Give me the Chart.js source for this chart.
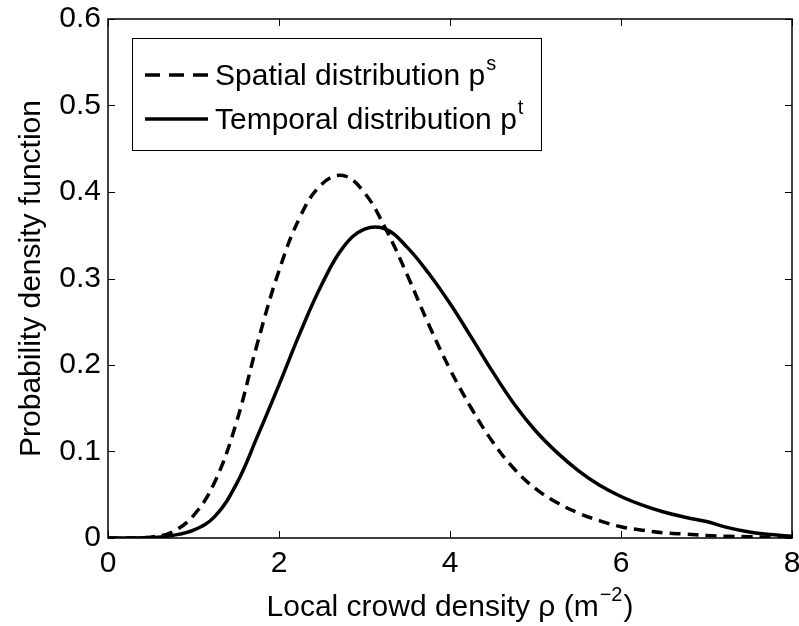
<!DOCTYPE html>
<html>
<head>
<meta charset="utf-8">
<script src="https://cdn.jsdelivr.net/npm/chart.js@4/dist/chart.umd.min.js"></script>
<style>
  html, body { margin: 0; padding: 0; background: #fff; }
  #wrap { width: 799px; height: 626px; }
</style>
</head>
<body>
<div id="wrap"><canvas id="pdf"></canvas></div>
<script>
"use strict";

// density grid (m^-2) and the two pdf curves
var densities = [0, 0.25, 0.5, 0.75, 1, 1.25, 1.5, 1.75, 2, 2.25, 2.5, 2.75, 3, 3.25, 3.5, 3.75,
  4, 4.25, 4.5, 4.75, 5, 5.25, 5.5, 5.75, 6, 6.25, 6.5, 6.75, 7, 7.25, 7.5, 7.75, 8];
var spatialPdf = [0, 0, 0.001, 0.007, 0.026, 0.065, 0.133, 0.226, 0.309, 0.372, 0.409, 0.419,
  0.399, 0.357, 0.304, 0.247, 0.195, 0.150, 0.111, 0.080, 0.057, 0.041, 0.029, 0.02,
  0.013, 0.009, 0.006, 0.0045, 0.003, 0.002, 0.0015, 0.001, 0.0005];
var temporalPdf = [0, 0, 0.0005, 0.003, 0.009, 0.025, 0.062, 0.118, 0.177, 0.238, 0.293, 0.336,
  0.357, 0.357, 0.336, 0.306, 0.271, 0.232, 0.192, 0.155, 0.124, 0.099, 0.078, 0.061,
  0.048, 0.038, 0.030, 0.024, 0.019, 0.012, 0.007, 0.004, 0.002];

var seriesNames = ["Spatial distribution p", "Temporal distribution p"];
var seriesSups = ["s", "t"];
var xTickValues = [0, 2, 4, 6, 8];
var yTickValues = [0, 0.1, 0.2, 0.3, 0.4, 0.5, 0.6];
var xTitle = ["Local crowd density \u03c1 (m", "\u22122", ")"];

var FONT = '"Liberation Sans", Arial, Helvetica, sans-serif';

function toPoints(ys) {
  return densities.map(function(x, i) { return { x: x, y: ys[i] }; });
}

// box + inward ticks (matlab style), x title with superscript, legend inside the axes
var framePlugin = {
  id: "frame",
  afterDraw: function(chart) {
    var ctx = chart.ctx;
    var a = chart.chartArea;
    var xs = chart.scales.x, ys = chart.scales.y;
    var tick = 7;
    ctx.save();
    ctx.strokeStyle = "#000";
    ctx.lineWidth = 1.5;
    ctx.strokeRect(a.left, a.top, a.right - a.left, a.bottom - a.top);

    ctx.lineWidth = 1;
    ctx.beginPath();
    xs.ticks.forEach(function(t) {
      var px = Math.round(xs.getPixelForValue(t.value)) + 0.5;
      ctx.moveTo(px, a.bottom); ctx.lineTo(px, a.bottom - tick);
      ctx.moveTo(px, a.top); ctx.lineTo(px, a.top + tick);
    });
    ys.ticks.forEach(function(t) {
      var py = Math.round(ys.getPixelForValue(t.value)) + 0.5;
      ctx.moveTo(a.left, py); ctx.lineTo(a.left + tick, py);
      ctx.moveTo(a.right, py); ctx.lineTo(a.right - tick, py);
    });
    ctx.stroke();

    // x axis title
    ctx.fillStyle = "#000";
    ctx.textBaseline = "alphabetic";
    ctx.textAlign = "left";
    ctx.font = "30px " + FONT;
    var w0 = ctx.measureText(xTitle[0]).width;
    var w2 = ctx.measureText(xTitle[2]).width;
    ctx.font = "20px " + FONT;
    var w1 = ctx.measureText(xTitle[1]).width;
    var tx = (a.left + a.right) / 2 - (w0 + w1 + w2 + 2) / 2;
    var tb = 616;
    ctx.font = "30px " + FONT;
    ctx.fillText(xTitle[0], tx, tb);
    ctx.font = "20px " + FONT;
    ctx.fillText(xTitle[1], tx + w0 + 1, tb - 15);
    ctx.font = "30px " + FONT;
    ctx.fillText(xTitle[2], tx + w0 + w1 + 2, tb);

    // legend
    var bx = a.left + 24, by = a.top + 19, bw = 409, bh = 112;
    ctx.fillStyle = "#fff";
    ctx.fillRect(bx, by, bw, bh);
    ctx.lineWidth = 1;
    ctx.strokeRect(bx + 0.5, by + 0.5, bw, bh);

    chart.data.datasets.forEach(function(ds, i) {
      var cy = by + 37 + i * 44;
      ctx.lineWidth = ds.borderWidth;
      ctx.setLineDash(i === 0 ? [15, 9] : []);
      ctx.beginPath();
      ctx.moveTo(bx + 13, cy);
      ctx.lineTo(bx + 76, cy);
      ctx.stroke();
      ctx.setLineDash([]);

      ctx.fillStyle = "#000";
      ctx.font = "30px " + FONT;
      var lx = bx + 83;
      var base = cy + 10;
      ctx.fillText(ds.label, lx, base);
      var w = ctx.measureText(ds.label).width;
      ctx.font = "20px " + FONT;
      ctx.fillText(seriesSups[i], lx + w + 1, base - 15);
    });
    ctx.restore();
  }
};

new Chart(document.getElementById("pdf"), {
  type: "line",
  data: {
    datasets: [{
      label: seriesNames[0],
      data: toPoints(spatialPdf),
      borderColor: "#000",
      borderWidth: 3.5,
      borderDash: [11, 7],
      pointRadius: 0,
      fill: false,
      tension: 0.4
    }, {
      label: seriesNames[1],
      data: toPoints(temporalPdf),
      borderColor: "#000",
      borderWidth: 3.5,
      pointRadius: 0,
      fill: false,
      tension: 0.4
    }]
  },
  options: {
    responsive: true,
    maintainAspectRatio: false,
    animation: false,
    layout: { padding: { top: 19, right: 7, left: 0, bottom: 0 } },
    plugins: {
      legend: { display: false },
      tooltip: { enabled: false }
    },
    scales: {
      x: {
        type: "linear",
        min: 0,
        max: 8,
        afterBuildTicks: function(scale) {
          scale.ticks = xTickValues.map(function(v) { return { value: v }; });
        },
        afterFit: function(scale) {
          scale.height = 88;
          scale.paddingLeft = 0;
          scale.paddingRight = 0;
        },
        grid: { display: false, drawTicks: false },
        border: { display: false },
        ticks: {
          color: "#000",
          padding: 8,
          maxRotation: 0,
          font: { family: FONT, size: 30, lineHeight: 1.2 }
        },
        title: { display: false }
      },
      y: {
        type: "linear",
        min: 0,
        max: 0.6,
        afterBuildTicks: function(scale) {
          scale.ticks = yTickValues.map(function(v) { return { value: v }; });
        },
        afterFit: function(scale) {
          scale.width = 108;
          scale.paddingTop = 0;
          scale.paddingBottom = 0;
        },
        grid: { display: false, drawTicks: false },
        border: { display: false },
        ticks: {
          color: "#000",
          padding: 7,
          font: { family: FONT, size: 30, lineHeight: 1.2 },
          callback: function(v) { return String(Math.round(v * 10) / 10); }
        },
        title: {
          display: true,
          text: "Probability density function",
          color: "#000",
          padding: { top: 14, bottom: 0 },
          font: { family: FONT, size: 30, lineHeight: 1.2 }
        }
      }
    }
  },
  plugins: [framePlugin]
});
</script>
</body>
</html>
